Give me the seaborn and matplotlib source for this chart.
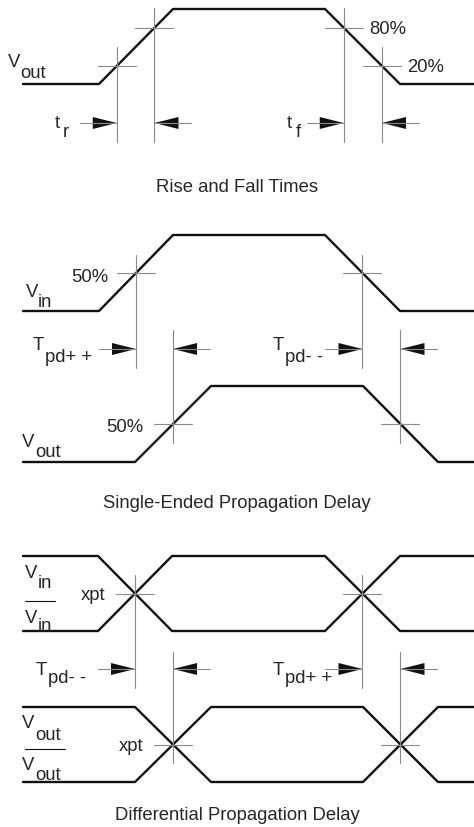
import numpy as np
import pandas as pd
import matplotlib
matplotlib.use('Agg')
import matplotlib.pyplot as plt
import seaborn as sns

sns.set_style('white')
plt.rcParams['font.family'] = ['Liberation Sans', 'DejaVu Sans']

# waveforms in pixel units (y grows downward)
rf_x = [23, 99, 173, 325, 400, 474]
rf_y = [84, 84, 9, 9, 84, 84]

se_in_x = [23, 99, 173, 325, 400, 474]
se_in_y = [311, 311, 235, 235, 311, 311]
se_out_x = [23, 135, 211, 363, 438, 474]
se_out_y = [462, 462, 386, 386, 462, 462]

df_in_x = [23, 98, 172, 325, 400, 474]
df_in_y = [556, 556, 631, 631, 556, 556]
df_inb_y = [631, 631, 556, 556, 631, 631]
df_out_x = [23, 135, 211, 363, 438, 474]
df_out_y = [707, 707, 782, 782, 707, 707]
df_outb_y = [782, 782, 707, 707, 782, 782]

# threshold levels (fraction of swing) used for the rise/fall markers
rf_levels = [0.24, 0.75]
titles = ['Rise and Fall Times', 'Single-Ended Propagation Delay',
          'Differential Propagation Delay']
title_y = [187, 503, 816]

WAVE = '#111111'
MARK = '#8a8a8a'
FS = 13.3


def edge_x(xs, ys, seg, y):
    x0, x1 = xs[seg], xs[seg + 1]
    y0, y1 = ys[seg], ys[seg + 1]
    return x0 + (y - y0) / (y1 - y0) * (x1 - x0)


def wave(ax, xs, ys):
    d = pd.DataFrame({'x': xs, 'y': ys})
    sns.lineplot(data=d, x='x', y='y', sort=False, estimator=None,
                 color=WAVE, lw=1.7, ax=ax)


def cross(ax, x, y, top, bot, half=19):
    ax.plot([x - half, x + half], [y, y], color=MARK, lw=0.8)
    ax.plot([x, x], [top, bot], color=MARK, lw=0.8)


def arrow(ax, tip, y, d, length=37, head=24, hw=6):
    ax.plot([tip - d * length, tip], [y, y], color=MARK, lw=0.8)
    ax.fill([tip, tip - d * head, tip - d * head], [y, y - hw, y + hw],
            color=WAVE, lw=0)


def sub_label(ax, x, y, main, sx, sy, sub):
    ax.text(x, y, main, fontsize=FS, va='baseline', ha='left')
    ax.text(sx, sy, sub, fontsize=FS, va='baseline', ha='left')


fig = plt.figure(figsize=(4.74, 8.27), dpi=100)
ax = fig.add_axes([0, 0, 1, 1])
ax.set_xlim(0, 474)
ax.set_ylim(827, 0)
ax.axis('off')

# ---- rise and fall times
wave(ax, rf_x, rf_y)
lo, hi = rf_y[0], rf_y[2]
lv = [lo - f * (lo - hi) for f in rf_levels]
r20, r80 = edge_x(rf_x, rf_y, 1, lv[0]), edge_x(rf_x, rf_y, 1, lv[1])
f80, f20 = edge_x(rf_x, rf_y, 3, lv[1]), edge_x(rf_x, rf_y, 3, lv[0])
cross(ax, r20, lv[0], 47, 142)
cross(ax, r80, lv[1], 8, 142)
cross(ax, f80, lv[1], 8, 142)
cross(ax, f20, lv[0], 47, 142)
for a, b in [(r20, r80), (f80, f20)]:
    arrow(ax, a, 123, 1)
    arrow(ax, b, 123, -1)
ax.text(369, lv[1], '80%', fontsize=FS, va='center_baseline')
ax.text(407, lv[0], '20%', fontsize=FS, va='center_baseline')
sub_label(ax, 8, 67, 'V', 20, 78, 'out')
sub_label(ax, 55, 128, 't', 63, 137, 'r')
sub_label(ax, 287, 128, 't', 296, 137, 'f')

# ---- single-ended propagation delay
wave(ax, se_in_x, se_in_y)
wave(ax, se_out_x, se_out_y)
m_in = (se_in_y[0] + se_in_y[2]) / 2
m_out = (se_out_y[0] + se_out_y[2]) / 2
a1, a2 = edge_x(se_in_x, se_in_y, 1, m_in), edge_x(se_in_x, se_in_y, 3, m_in)
b1, b2 = edge_x(se_out_x, se_out_y, 1, m_out), edge_x(se_out_x, se_out_y, 3, m_out)
cross(ax, a1, m_in, 255, 368)
cross(ax, a2, m_in, 255, 368)
cross(ax, b1, m_out, 330, 443)
cross(ax, b2, m_out, 330, 443)
for a, b in [(a1, b1), (a2, b2)]:
    arrow(ax, a, 349, 1)
    arrow(ax, b, 349, -1)
ax.text(108, m_in + 3, '50%', fontsize=FS, va='center_baseline', ha='right')
ax.text(143, m_out + 2, '50%', fontsize=FS, va='center_baseline', ha='right')
sub_label(ax, 26, 297, 'V', 38, 307, 'in')
sub_label(ax, 22, 447, 'V', 35, 457, 'out')
sub_label(ax, 33, 350, 'T', 45, 362, 'pd+ +')
sub_label(ax, 273, 350, 'T', 285, 362, 'pd- -')

# ---- differential propagation delay
wave(ax, df_in_x, df_in_y)
wave(ax, df_in_x, df_inb_y)
wave(ax, df_out_x, df_out_y)
wave(ax, df_out_x, df_outb_y)
m_in = (df_in_y[0] + df_in_y[2]) / 2
m_out = (df_out_y[0] + df_out_y[2]) / 2
a1, a2 = edge_x(df_in_x, df_in_y, 1, m_in), edge_x(df_in_x, df_in_y, 3, m_in)
b1, b2 = edge_x(df_out_x, df_out_y, 1, m_out), edge_x(df_out_x, df_out_y, 3, m_out)
cross(ax, a1, m_in, 575, 688)
cross(ax, a2, m_in, 575, 688)
cross(ax, b1, m_out, 652, 763)
cross(ax, b2, m_out, 652, 763)
for a, b in [(a1, b1), (a2, b2)]:
    arrow(ax, a, 669, 1)
    arrow(ax, b, 669, -1)
ax.text(81, m_in, 'xpt', fontsize=FS, va='center_baseline')
ax.text(119, m_out, 'xpt', fontsize=FS, va='center_baseline')
sub_label(ax, 25, 578, 'V', 38, 588, 'in')
ax.plot([25, 55], [601, 601], color=WAVE, lw=0.8)
sub_label(ax, 25, 623, 'V', 38, 631, 'in')
sub_label(ax, 22, 728, 'V', 35, 740, 'out')
ax.plot([25, 65], [749, 749], color=WAVE, lw=0.8)
sub_label(ax, 22, 770, 'V', 35, 780, 'out')
sub_label(ax, 36, 675, 'T', 48, 683, 'pd- -')
sub_label(ax, 273, 675, 'T', 285, 683, 'pd+ +')

for t, y in zip(titles, title_y):
    ax.text(237, y, t, fontsize=FS, ha='center', va='center')

fig.savefig('out.png', dpi=100)
